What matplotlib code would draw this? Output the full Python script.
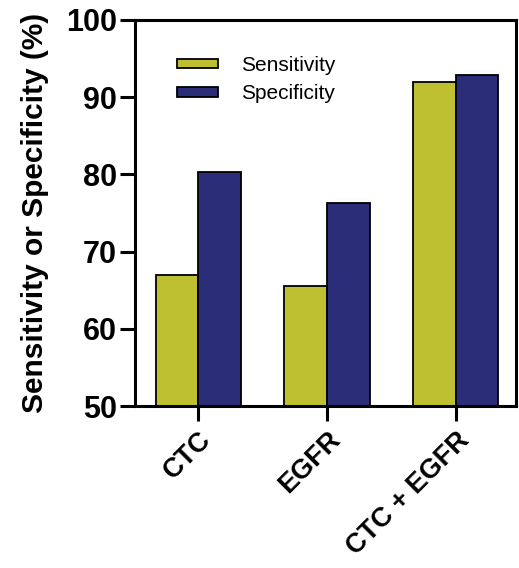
"""Sensitivity / specificity grouped bar chart."""

import matplotlib
import matplotlib.pyplot as plt
import numpy as np

matplotlib.use("Agg")

categories = ["CTC", "EGFR", "CTC + EGFR"]
sensitivity = [67.0, 65.6, 92.0]
specificity = [80.3, 76.3, 92.8]
series_labels = ["Sensitivity", "Specificity"]
y_ticks = [50, 60, 70, 80, 90, 100]

plt.rcParams["font.family"] = ["Liberation Sans", "DejaVu Sans"]

fig = plt.figure(figsize=(5.19, 5.68), dpi=100)
ax = fig.add_axes([0.260, 0.285, 0.734, 0.680])

x = np.arange(len(categories))
width = 0.33
ax.bar(x - width / 2, sensitivity, width, color="#BEC032", edgecolor="black",
       linewidth=1.3, label=series_labels[0])
ax.bar(x + width / 2, specificity, width, color="#2B2D78", edgecolor="black",
       linewidth=1.3, label=series_labels[1])

ax.set_ylim(50, 100)
ax.set_xlim(-0.49, 2.465)
ax.set_yticks(y_ticks)
ax.set_xticks(x)
ax.set_xticklabels(categories, rotation=45, ha="right", rotation_mode="anchor",
                   fontsize=19.5, fontweight="bold")
for lbl in ax.get_yticklabels():
    lbl.set_fontsize(22)
    lbl.set_fontweight("bold")
ax.set_ylabel("Sensitivity or Specificity (%)", fontsize=21.5, fontweight="bold",
              labelpad=12)

for side in ["left", "bottom", "top", "right"]:
    ax.spines[side].set_linewidth(2.2)
ax.tick_params(axis="both", direction="out", length=11, width=2.2, pad=2)
ax.tick_params(axis="x", pad=4)

ax.legend(loc="upper left", bbox_to_anchor=(0.06, 0.955), frameon=False,
          fontsize=15, handlelength=2.0, handleheight=0.35,
          handletextpad=1.1, labelspacing=0.45)

fig.savefig("out.png", dpi=100)
